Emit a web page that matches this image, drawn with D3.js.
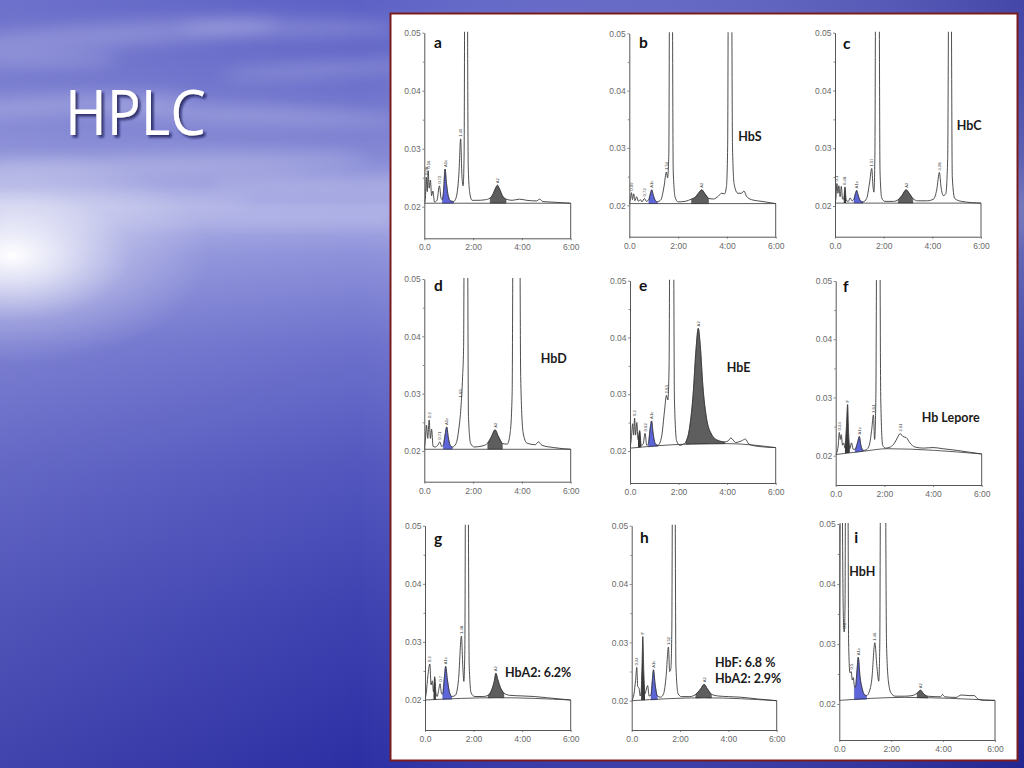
<!DOCTYPE html>
<html><head><meta charset="utf-8">
<script src="https://cdn.jsdelivr.net/npm/d3@7"></script>
<style>html,body{margin:0;padding:0;overflow:hidden;background:#4a4fbf}svg{display:block}</style>
</head><body><svg id="c" width="1024" height="768"></svg>
<script>
// ---------- data ----------
const panelKeys = ["a","b","c","d","e","f","g","h","i"];
const yTickValues = [0.02, 0.03, 0.04, 0.05];
const yTickLabels = ["0.02", "0.03", "0.04", "0.05"];
const yMinorValues = [0.025, 0.035, 0.045];
const xTickValues = [0, 2, 4, 6];
const xTickLabels = ["0.0", "2:00", "4:00", "6:00"];

const traceA = [[0,0.0207],[0.04,0.0212],[0.08,0.0251],[0.12,0.0226],[0.16,0.0262],[0.2,0.0232],[0.25,0.0246],[0.3,0.0219],[0.35,0.0227],[0.42,0.0208],[0.52,0.0211],[0.62,0.0236],[0.69,0.0214],[0.74,0.0212],[0.79,0.0228],[0.85,0.0265],[0.91,0.0240],[0.98,0.0219],[1.08,0.0210],[1.2,0.0209],[1.3,0.0215],[1.42,0.0258],[1.49,0.0317],[1.54,0.0255],[1.59,0.0236],[1.63,0.0285],[1.67,0.07],[1.75,0.07],[1.8,0.027],[1.86,0.0225],[1.96,0.0211],[2.2,0.0211],[2.5,0.0212],[2.7,0.0215],[2.82,0.0222],[2.92,0.0232],[3.0,0.0237],[3.08,0.0231],[3.2,0.0219],[3.35,0.0213],[3.6,0.0211],[3.9,0.0213],[4.2,0.0211],[4.6,0.0210],[4.73,0.0213],[4.85,0.0209],[5.2,0.0208],[5.6,0.0207],[6,0.0206]];
const traceB = [[0,0.0203],[0.05,0.0212],[0.09,0.0222],[0.13,0.0210],[0.18,0.0220],[0.23,0.0208],[0.3,0.0215],[0.37,0.0207],[0.45,0.0210],[0.52,0.0206],[0.62,0.0212],[0.7,0.0207],[0.8,0.0210],[0.86,0.0220],[0.92,0.0227],[0.98,0.0218],[1.06,0.0209],[1.15,0.0206],[1.3,0.0210],[1.42,0.0232],[1.52,0.0258],[1.57,0.0248],[1.62,0.0290],[1.66,0.07],[1.75,0.07],[1.8,0.026],[1.88,0.0214],[2.0,0.0206],[2.3,0.0207],[2.55,0.0211],[2.7,0.0214],[2.85,0.0222],[2.97,0.0227],[3.1,0.0220],[3.25,0.0212],[3.45,0.0211],[3.65,0.0216],[3.78,0.0221],[3.9,0.0220],[3.98,0.0232],[4.03,0.03],[4.07,0.07],[4.18,0.07],[4.23,0.03],[4.3,0.0236],[4.45,0.0221],[4.6,0.0221],[4.7,0.0225],[4.8,0.0216],[5.0,0.0210],[5.4,0.0207],[6,0.0203]];
const traceC = [[0,0.0205],[0.04,0.0215],[0.08,0.0239],[0.12,0.0222],[0.16,0.0235],[0.21,0.0216],[0.26,0.0234],[0.31,0.0212],[0.36,0.0212],[0.41,0.0233],[0.46,0.0210],[0.55,0.0208],[0.62,0.0214],[0.7,0.0209],[0.78,0.0212],[0.84,0.0222],[0.89,0.0227],[0.95,0.0219],[1.03,0.0210],[1.15,0.0207],[1.3,0.0213],[1.42,0.0240],[1.51,0.0265],[1.56,0.0235],[1.6,0.0224],[1.64,0.029],[1.68,0.07],[1.8,0.07],[1.85,0.026],[1.92,0.0214],[2.05,0.0208],[2.4,0.0208],[2.6,0.0211],[2.75,0.0218],[2.92,0.0228],[3.05,0.0222],[3.2,0.0213],[3.4,0.0209],[3.8,0.0209],[4.05,0.0212],[4.18,0.0228],[4.29,0.0258],[4.36,0.0232],[4.45,0.0218],[4.55,0.0221],[4.63,0.028],[4.69,0.07],[4.76,0.07],[4.82,0.025],[4.92,0.0213],[5.2,0.0208],[6,0.0205]];
const traceD = [[0,0.0203],[0.04,0.0218],[0.09,0.0245],[0.14,0.0222],[0.2,0.0254],[0.25,0.0222],[0.3,0.0238],[0.36,0.0208],[0.45,0.0207],[0.55,0.0210],[0.64,0.0216],[0.71,0.0208],[0.78,0.0210],[0.85,0.0228],[0.92,0.0242],[0.98,0.0225],[1.06,0.0210],[1.15,0.0207],[1.3,0.0213],[1.42,0.0240],[1.5,0.0275],[1.57,0.0330],[1.61,0.038],[1.65,0.07],[1.76,0.07],[1.81,0.026],[1.9,0.0213],[2.05,0.0207],[2.4,0.0209],[2.6,0.0214],[2.75,0.0225],[2.9,0.0237],[3.03,0.0226],[3.2,0.0213],[3.4,0.0212],[3.52,0.0232],[3.6,0.030],[3.65,0.07],[3.9,0.07],[3.95,0.033],[4.05,0.0232],[4.2,0.0214],[4.55,0.0211],[4.68,0.0216],[4.82,0.0210],[5.3,0.0206],[6,0.0203]];
const traceE = [[0,0.0205],[0.05,0.0220],[0.11,0.0248],[0.15,0.0228],[0.19,0.0258],[0.23,0.0228],[0.28,0.0250],[0.33,0.0220],[0.4,0.0236],[0.46,0.0210],[0.54,0.0212],[0.62,0.0231],[0.69,0.0210],[0.76,0.0213],[0.83,0.0240],[0.89,0.0253],[0.95,0.0232],[1.04,0.0213],[1.15,0.0210],[1.3,0.0225],[1.42,0.0270],[1.5,0.0298],[1.56,0.0290],[1.61,0.035],[1.65,0.07],[1.78,0.07],[1.83,0.029],[1.92,0.0218],[2.05,0.0210],[2.2,0.0212],[2.3,0.0216],[2.45,0.0240],[2.6,0.0300],[2.72,0.0380],[2.81,0.0416],[2.9,0.0382],[3.0,0.0315],[3.15,0.0258],[3.35,0.0230],[3.6,0.0219],[3.9,0.0216],[4.05,0.0218],[4.15,0.0223],[4.35,0.0215],[4.6,0.0218],[4.75,0.0221],[4.9,0.0212],[5.3,0.0208],[6,0.0206]];
const traceF = [[0,0.0202],[0.05,0.0206],[0.1,0.0216],[0.15,0.0240],[0.19,0.0228],[0.23,0.0236],[0.28,0.0218],[0.33,0.0222],[0.38,0.0213],[0.44,0.0250],[0.49,0.0288],[0.53,0.0240],[0.58,0.0212],[0.65,0.0222],[0.72,0.0211],[0.8,0.0211],[0.9,0.0223],[0.97,0.0233],[1.04,0.0217],[1.12,0.0209],[1.25,0.0210],[1.38,0.0218],[1.48,0.0245],[1.55,0.0270],[1.6,0.0228],[1.65,0.030],[1.7,0.07],[1.8,0.07],[1.85,0.030],[1.93,0.0218],[2.05,0.0213],[2.25,0.0215],[2.42,0.0222],[2.55,0.0232],[2.65,0.0238],[2.76,0.0233],[2.9,0.0231],[3.05,0.0222],[3.25,0.0215],[3.6,0.0213],[4.0,0.0214],[4.4,0.0212],[5.0,0.0209],[5.5,0.0206],[6,0.0203]];
const traceG = [[0,0.0200],[0.05,0.0212],[0.12,0.0242],[0.2,0.0262],[0.25,0.0226],[0.3,0.0233],[0.35,0.0214],[0.4,0.0240],[0.45,0.0212],[0.5,0.0206],[0.55,0.0214],[0.62,0.0228],[0.68,0.0211],[0.73,0.0210],[0.8,0.0240],[0.85,0.0258],[0.92,0.0236],[1.0,0.0215],[1.1,0.0206],[1.25,0.0208],[1.38,0.0235],[1.5,0.0310],[1.56,0.0255],[1.6,0.0232],[1.64,0.0285],[1.68,0.07],[1.76,0.07],[1.82,0.026],[1.9,0.0212],[2.05,0.0206],[2.4,0.0206],[2.6,0.0208],[2.75,0.0218],[2.85,0.0232],[2.92,0.0246],[3.0,0.0235],[3.1,0.0222],[3.25,0.0212],[3.5,0.0208],[4.0,0.0207],[4.5,0.0206],[5.0,0.0204],[6,0.0200]];
const traceH = [[0,0.0200],[0.05,0.0204],[0.1,0.0213],[0.16,0.0235],[0.21,0.0257],[0.25,0.0224],[0.3,0.0222],[0.35,0.0208],[0.39,0.0215],[0.43,0.0265],[0.46,0.0310],[0.5,0.0250],[0.55,0.0212],[0.61,0.0220],[0.66,0.0226],[0.72,0.0208],[0.8,0.0210],[0.86,0.0238],[0.9,0.0253],[0.97,0.0228],[1.06,0.0208],[1.2,0.0206],[1.32,0.0212],[1.42,0.0240],[1.52,0.0292],[1.57,0.0250],[1.62,0.0255],[1.66,0.032],[1.7,0.07],[1.78,0.07],[1.83,0.026],[1.92,0.0212],[2.05,0.0207],[2.4,0.0207],[2.65,0.0211],[2.85,0.0220],[3.0,0.0228],[3.12,0.0221],[3.3,0.0211],[3.6,0.0208],[4.0,0.0207],[4.5,0.0206],[5.2,0.0203],[6,0.0200]];
const traceI = [[0,0.0206],[0.02,0.04],[0.05,0.07],[0.1,0.07],[0.13,0.045],[0.16,0.034],[0.19,0.032],[0.22,0.036],[0.25,0.07],[0.32,0.07],[0.36,0.030],[0.41,0.0252],[0.46,0.0254],[0.5,0.0240],[0.54,0.0244],[0.58,0.0230],[0.62,0.0228],[0.68,0.0255],[0.73,0.0278],[0.8,0.0245],[0.88,0.0226],[0.96,0.0216],[1.05,0.0214],[1.15,0.0220],[1.25,0.0240],[1.37,0.0302],[1.45,0.0262],[1.52,0.0238],[1.56,0.030],[1.6,0.07],[1.76,0.07],[1.82,0.030],[1.9,0.0235],[2.0,0.0218],[2.15,0.0213],[2.5,0.0213],[2.8,0.0214],[3.0,0.0218],[3.13,0.0223],[3.25,0.0217],[3.4,0.0213],[3.9,0.0212],[3.98,0.0216],[4.06,0.0212],[4.5,0.0211],[4.7,0.0215],[5.0,0.0214],[5.2,0.0214],[5.35,0.0208],[5.6,0.0206],[6,0.0206]];
const traces = [traceA, traceB, traceC, traceD, traceE, traceF, traceG, traceH, traceI];

const baselines = [
  [[0,0.0206],[6,0.0206]],
  [[0,0.0203],[6,0.0203]],
  [[0,0.0205],[6,0.0205]],
  [[0,0.0203],[6,0.0203]],
  [[0,0.0205],[2.3,0.0212],[4,0.0213],[6,0.0206]],
  [[0,0.0202],[1.2,0.0208],[2.1,0.0212],[6,0.0203]],
  [[0,0.0200],[3,0.0204],[6,0.0200]],
  [[0,0.0200],[3,0.0205],[6,0.0200]],
  [[0,0.0206],[2.5,0.0211],[6,0.0206]]
];
const blueRanges = [[0.74,1.2],[0.8,1.15],[0.78,1.15],[0.78,1.15],[0.76,1.15],[0.8,1.12],[0.73,1.1],[0.8,1.06],[0.58,1.05]];
const grayRanges = [[2.7,3.35],[2.55,3.25],[2.6,3.2],[2.6,3.2],[2.3,3.9],null,[2.6,3.25],[2.65,3.3],[2.95,3.4]];
const darkRanges = [[],[],[[0.36,0.46]],[],[[0.33,0.46]],[[0.38,0.58]],[[0.35,0.45]],[[0.39,0.55]],[]];
const peakLabels = [
  [[0.08,0.0251,"0.08"],[0.16,0.0262,"0.16"],[0.62,0.0236,"0.72"],[0.85,0.0265,"A1c"],[1.49,0.0317,"1.49"],[3.0,0.0237,"A2"]],
  [[0.09,0.0222,"0.09"],[0.62,0.0212,"0.72"],[0.92,0.0227,"A1c"],[1.52,0.0258,"1.54"],[2.97,0.0227,"A2"]],
  [[0.08,0.0239,"0.1"],[0.41,0.0233,"0.48"],[0.89,0.0227,"A1c"],[1.51,0.0265,"1.57"],[2.92,0.0228,"A2"],[4.29,0.0258,"4.28"]],
  [[0.2,0.0254,"0.2"],[0.64,0.0216,"0.71"],[0.92,0.0242,"A1c"],[1.5,0.0290,"1.65"],[2.9,0.0237,"A2"]],
  [[0.19,0.0258,"0.2"],[0.62,0.0231,"0.62"],[0.89,0.0253,"A1c"],[1.5,0.0298,"1.63"],[2.81,0.0416,"A2"]],
  [[0.15,0.0240,"0.24"],[0.49,0.0288,"F"],[0.97,0.0233,"A1c"],[1.55,0.0270,"1.61"],[2.65,0.0238,"2.61"]],
  [[0.2,0.0262,"0.2"],[0.62,0.0228,"0.7"],[0.85,0.0258,"A1c"],[1.5,0.0310,"1.48"],[2.92,0.0246,"A2"]],
  [[0.21,0.0257,"0.24"],[0.46,0.0310,"F"],[0.9,0.0253,"A1c"],[1.52,0.0292,"1.52"],[3.0,0.0228,"A2"]],
  [[0.2,0.0322,"0.1"],[0.46,0.0254,"0.5"],[0.73,0.0278,"A1c"],[1.37,0.0302,"1.46"],[3.13,0.0223,"A2"]]
];
const annotationTexts = [[],["HbS"],["HbC"],["HbD"],["HbE"],["Hb Lepore"],["HbA2: 6.2%"],["HbF: 6.8 %","HbA2: 2.9%"],["HbH"]];
const slideTitle = "HPLC";

// ---------- layout (pixels) ----------
const layout = [
  {left:424.3,right:570.7,top:32.7,y02:206.7,bottom:238.3,letter:[434,48.3],notes:[]},
  {left:629.3,right:775.7,top:33.3,y02:205.3,bottom:236.7,letter:[639,48.3],notes:[[738.3,140.7]]},
  {left:835,right:981,top:32.7,y02:206,bottom:236.7,letter:[843,49.3],notes:[[956.7,130]]},
  {left:424.3,right:570.7,top:279,y02:451,bottom:481.7,letter:[434,291],notes:[[540.7,362.7]]},
  {left:630,right:775.7,top:280.7,y02:451,bottom:483,letter:[639,291],notes:[[726.7,372.3]]},
  {left:835.7,right:981.7,top:281,y02:455.7,bottom:485,letter:[843,291.7],notes:[[921.7,421.7]]},
  {left:425,right:570.7,top:525.7,y02:700,bottom:730,letter:[434,543.5],notes:[[505,677.3]]},
  {left:631.7,right:776.7,top:525.7,y02:700.7,bottom:730,letter:[640,543.3],notes:[[715,666.7],[715,682.7]]},
  {left:839.3,right:995,top:524,y02:704,bottom:740,letter:[854.3,543.3],notes:[[849.3,576]]}
];

// ---------- background ----------
const svg = d3.select("#c");
const defs = svg.append("defs");
const sky = defs.append("linearGradient").attr("id","sky").attr("x1",0).attr("y1",0).attr("x2",0).attr("y2",1);
[[0,"#5d61c5"],[0.1,"#6a6eca"],[0.2,"#8387d4"],[0.27,"#a9ace4"],[0.29,"#a4a7e2"],[0.33,"#8e92da"],[0.45,"#6d71cc"],[0.62,"#5155bd"],[0.8,"#3d41b0"],[1,"#2c2fa3"]]
  .forEach(s => sky.append("stop").attr("offset",s[0]).attr("stop-color",s[1]));
const side = defs.append("linearGradient").attr("id","side").attr("x1",0).attr("y1",0).attr("x2",1).attr("y2",0);
[[0,"#ffffff",0.1],[0.35,"#ffffff",0],[1,"#141470",0.35]]
  .forEach(s => side.append("stop").attr("offset",s[0]).attr("stop-color",s[1]).attr("stop-opacity",s[2]));
const glow = defs.append("radialGradient").attr("id","glow");
[[0,1],[0.25,0.7],[0.6,0.22],[1,0]].forEach(s => glow.append("stop").attr("offset",s[0]).attr("stop-color","#ffffff").attr("stop-opacity",s[1]));
const blur = defs.append("filter").attr("id","blur").attr("x","-50%").attr("y","-50%").attr("width","200%").attr("height","200%");
blur.append("feGaussianBlur").attr("stdDeviation",8);
const shadow = defs.append("filter").attr("id","shadow").attr("x","-10%").attr("y","-10%").attr("width","130%").attr("height","140%");
shadow.append("feDropShadow").attr("dx",2.5).attr("dy",2.5).attr("stdDeviation",1.2).attr("flood-color","#15154a").attr("flood-opacity",0.75);

svg.append("rect").attr("width",1024).attr("height",768).attr("fill","url(#sky)");
svg.append("rect").attr("width",1024).attr("height",768).attr("fill","url(#side)");
const clouds = [[110,35,170,12,-4],[290,28,110,8,0],[60,105,130,10,-3],[250,115,150,9,2],[160,165,210,12,-2],[330,185,120,7,0],[90,200,160,8,0],[320,70,100,7,-3],[40,60,80,7,0]];
svg.append("g").attr("filter","url(#blur)").selectAll("ellipse").data(clouds).join("ellipse")
  .attr("cx",d=>d[0]).attr("cy",d=>d[1]).attr("rx",d=>d[2]).attr("ry",d=>d[3])
  .attr("transform",d=>`rotate(${d[4]},${d[0]},${d[1]})`)
  .attr("fill","#ffffff").attr("opacity",0.2);
svg.append("ellipse").attr("cx",12).attr("cy",255).attr("rx",200).attr("ry",110).attr("fill","url(#glow)");
svg.append("rect").attr("x",0).attr("y",210).attr("width",390).attr("height",16).attr("fill","#ffffff").attr("opacity",0.12).attr("filter","url(#blur)");

// title (single text, drop shadow through a filter)
svg.append("text").attr("x",65).attr("y",135).text(slideTitle)
  .attr("font-family","Open Sans, Noto Sans, sans-serif").attr("font-size",62)
  .attr("textLength",141).attr("lengthAdjust","spacingAndGlyphs")
  .attr("fill","#ffffff").attr("filter","url(#shadow)");

// white frame
svg.append("rect").attr("x",390.5).attr("y",13.5).attr("width",627).attr("height",747)
  .attr("fill","#ffffff").attr("stroke","#7a1c1e").attr("stroke-width",2);

// ---------- panels ----------
panelKeys.forEach((key, i) => {
  const L = layout[i];
  const tr = traces[i];
  const x = d3.scaleLinear().domain([0,6]).range([L.left, L.right]);
  const y = d3.scaleLinear().domain([0.02,0.05]).range([L.y02, L.top]);
  const base = d3.scaleLinear().domain(baselines[i].map(d=>d[0])).range(baselines[i].map(d=>d[1]));
  const g = svg.append("g");
  const cid = "clip" + key;
  defs.append("clipPath").attr("id",cid).append("rect")
    .attr("x",L.left).attr("y",L.top - 1).attr("width",L.right - L.left + 1).attr("height",L.bottom - L.top + 1);
  const plot = g.append("g").attr("clip-path",`url(#${cid})`);
  const area = d3.area().x(d=>x(d[0])).y0(d=>y(base(d[0]))).y1(d=>y(d[1])).curve(d3.curveMonotoneX);
  const inRange = r => tr.filter(d => d[0] >= r[0] - 1e-9 && d[0] <= r[1] + 1e-9);
  darkRanges[i].forEach(r => plot.append("path").attr("d",area(inRange(r))).attr("fill","#3a3a3a"));
  plot.append("path").attr("d",area(inRange(blueRanges[i]))).attr("fill","#5d65d8").attr("stroke","#3b41a8").attr("stroke-width",0.4);
  if (grayRanges[i]) plot.append("path").attr("d",area(inRange(grayRanges[i]))).attr("fill","#5e5e5e").attr("stroke","#333").attr("stroke-width",0.4);
  const line = d3.line().x(d=>x(d[0])).y(d=>y(d[1])).curve(d3.curveMonotoneX);
  plot.append("path").attr("d",line(baselines[i])).attr("fill","none").attr("stroke","#333").attr("stroke-width",0.8);
  plot.append("path").attr("d",line(tr)).attr("fill","none").attr("stroke","#3a3a3a").attr("stroke-width",0.9);
  const last = tr[tr.length - 1];
  g.append("line").attr("x1",x(last[0])).attr("x2",x(last[0])).attr("y1",y(last[1])).attr("y2",L.bottom)
    .attr("stroke","#444").attr("stroke-width",0.9);
  g.selectAll("text.pk").data(peakLabels[i]).join("text").attr("class","pk")
    .attr("transform",d=>`translate(${x(d[0]) + 1.5},${Math.max(y(d[1]) - 2, L.top + 12)}) rotate(-90)`)
    .attr("font-family","Liberation Sans, Arial, sans-serif").attr("font-size",4.2).attr("fill","#333").text(d=>d[2]);
  const yAx = d3.scaleLinear().domain([y.invert(L.bottom), 0.05]).range([L.bottom, L.top]);
  g.append("g").attr("transform",`translate(${L.left},0)`)
    .call(d3.axisLeft(yAx).tickValues(yTickValues).tickFormat((d,k)=>yTickLabels[k]).tickSize(2).tickSizeOuter(0).tickPadding(1.5));
  g.append("g").attr("transform",`translate(${L.left},0)`)
    .call(d3.axisLeft(yAx).tickValues(yMinorValues).tickFormat("").tickSize(1.5).tickSizeOuter(0))
    .call(s => s.select(".domain").remove());
  g.append("g").attr("transform",`translate(0,${L.bottom})`)
    .call(d3.axisBottom(x).tickValues(xTickValues).tickFormat((d,k)=>xTickLabels[k]).tickSize(2).tickSizeOuter(0).tickPadding(4));
  g.selectAll(".domain").attr("stroke","#444").attr("stroke-width",0.9);
  g.selectAll(".tick line").attr("stroke","#555").attr("stroke-width",0.7);
  g.selectAll(".tick text").attr("font-family","Liberation Sans, Arial, sans-serif").attr("font-size",8.5).attr("fill","#6a6a6a");
  g.append("text").attr("x",L.letter[0]).attr("y",L.letter[1]).text(key)
    .attr("font-family","Lato, Open Sans, sans-serif").attr("font-weight","bold").attr("font-size",15.5).attr("fill","#111");
  annotationTexts[i].forEach((t, k) => {
    g.append("text").attr("x",L.notes[k][0]).attr("y",L.notes[k][1]).text(t)
      .attr("font-family","Lato, Open Sans, sans-serif").attr("font-weight","bold").attr("font-size",12.5).attr("fill","#1a1a1a");
  });
});
</script></body></html>
